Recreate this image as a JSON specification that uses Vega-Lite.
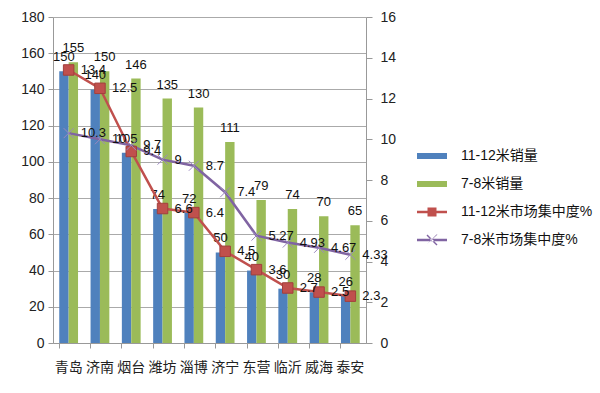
{
  "$schema": "https://vega.github.io/schema/vega-lite/v6.json",
  "autosize": {"type": "none"},
  "width": 313,
  "height": 326,
  "padding": {"left": 53, "top": 17, "right": 234, "bottom": 50},
  "background": "white",
  "config": {
    "view": {"stroke": null},
    "font": "Liberation Sans, Noto Sans CJK SC",
    "axis": {"labelFont": "Liberation Sans, Noto Sans CJK SC", "labelColor": "#222", "domainColor": "#999", "tickColor": "#999", "gridColor": "#aaa", "title": null},
    "legend": {"labelFont": "Liberation Sans, Noto Sans CJK SC"}
  },
  "datasets": {
    "sales": [
      {"city": "青岛", "series": "11-12米销量", "value": 150},
      {"city": "济南", "series": "11-12米销量", "value": 140},
      {"city": "烟台", "series": "11-12米销量", "value": 105},
      {"city": "潍坊", "series": "11-12米销量", "value": 74},
      {"city": "淄博", "series": "11-12米销量", "value": 72},
      {"city": "济宁", "series": "11-12米销量", "value": 50},
      {"city": "东营", "series": "11-12米销量", "value": 40},
      {"city": "临沂", "series": "11-12米销量", "value": 30},
      {"city": "威海", "series": "11-12米销量", "value": 28},
      {"city": "泰安", "series": "11-12米销量", "value": 26},
      {"city": "青岛", "series": "7-8米销量", "value": 155},
      {"city": "济南", "series": "7-8米销量", "value": 150},
      {"city": "烟台", "series": "7-8米销量", "value": 146},
      {"city": "潍坊", "series": "7-8米销量", "value": 135},
      {"city": "淄博", "series": "7-8米销量", "value": 130},
      {"city": "济宁", "series": "7-8米销量", "value": 111},
      {"city": "东营", "series": "7-8米销量", "value": 79},
      {"city": "临沂", "series": "7-8米销量", "value": 74},
      {"city": "威海", "series": "7-8米销量", "value": 70},
      {"city": "泰安", "series": "7-8米销量", "value": 65}
    ],
    "conc": [
      {"city": "青岛", "series": "11-12米市场集中度%", "value": 13.4},
      {"city": "济南", "series": "11-12米市场集中度%", "value": 12.5},
      {"city": "烟台", "series": "11-12米市场集中度%", "value": 9.4},
      {"city": "潍坊", "series": "11-12米市场集中度%", "value": 6.6},
      {"city": "淄博", "series": "11-12米市场集中度%", "value": 6.4},
      {"city": "济宁", "series": "11-12米市场集中度%", "value": 4.5},
      {"city": "东营", "series": "11-12米市场集中度%", "value": 3.6},
      {"city": "临沂", "series": "11-12米市场集中度%", "value": 2.7},
      {"city": "威海", "series": "11-12米市场集中度%", "value": 2.5},
      {"city": "泰安", "series": "11-12米市场集中度%", "value": 2.3},
      {"city": "青岛", "series": "7-8米市场集中度%", "value": 10.3},
      {"city": "济南", "series": "7-8米市场集中度%", "value": 10},
      {"city": "烟台", "series": "7-8米市场集中度%", "value": 9.7},
      {"city": "潍坊", "series": "7-8米市场集中度%", "value": 9},
      {"city": "淄博", "series": "7-8米市场集中度%", "value": 8.7},
      {"city": "济宁", "series": "7-8米市场集中度%", "value": 7.4},
      {"city": "东营", "series": "7-8米市场集中度%", "value": 5.27},
      {"city": "临沂", "series": "7-8米市场集中度%", "value": 4.93},
      {"city": "威海", "series": "7-8米市场集中度%", "value": 4.67},
      {"city": "泰安", "series": "7-8米市场集中度%", "value": 4.33}
    ]
  },
  "layer": [
    {
      "data": {"name": "sales"},
      "encoding": {
        "x": {"field": "city", "type": "nominal", "sort": ["青岛","济南","烟台","潍坊","淄博","济宁","东营","临沂","威海","泰安"],
              "scale": {"paddingInner": 0.4, "paddingOuter": 0.2},
              "axis": {"labelAngle": 0, "labelFontSize": 14, "labelPadding": 12, "tickSize": 5, "bandPosition": 0, "domainColor": "#999", "grid": false}},
        "xOffset": {"field": "series", "type": "nominal", "sort": ["11-12米销量", "7-8米销量"], "scale": {"paddingInner": 0, "paddingOuter": 0}},
        "y": {"field": "value", "type": "quantitative", "scale": {"domain": [0, 180], "nice": false},
              "axis": {"orient": "left", "values": [0,20,40,60,80,100,120,140,160,180], "labelFontSize": 14, "tickSize": 5, "labelPadding": 4, "grid": true}}
      },
      "layer": [
        {"mark": {"type": "bar"},
         "encoding": {"color": {"field": "series", "type": "nominal",
            "scale": {"domain": ["11-12米销量", "7-8米销量", "11-12米市场集中度%", "7-8米市场集中度%"], "range": ["#4F81BD", "#9BBB59", "#C0504D", "#8064A2"]},
            "legend": {"orient": "none", "legendX": 372, "legendY": 132, "title": null, "padding": 0,
              "labelFontSize": 14, "labelColor": "#111", "symbolSize": 100, "labelOffset": 22, "rowPadding": 14,
              "symbolType": "square",
              "encode": {"symbols": {"update": {
                "shape": {"signal": "(datum.value === '11-12米销量' || datum.value === '7-8米销量') ? 'M-3,-0.6H3V0.6H-3Z' : (datum.value === '11-12米市场集中度%' ? 'M-3,-0.25H3V0.25H-3Z M-0.9,-0.9H0.9V0.9H-0.9Z' : 'M-3,-0.25H3V0.25H-3Z M-1.1,-0.9L0.9,1.1L1.1,0.9L-0.9,-1.1Z M-1.1,0.9L1.1,-1.1L0.9,-1.1L-1.1,0.9Z')"},
                "fill": {"scale": "color", "field": "value"},
                "stroke": {"value": "transparent"},
                "strokeWidth": {"value": 0},
                "opacity": {"value": 1},
                "fillOpacity": {"value": 1}
              }}}}}}},
        {"mark": {"type": "text", "baseline": "alphabetic", "dy": -10, "fontSize": 13, "color": "#111"},
         "encoding": {"text": {"field": "value", "type": "nominal"}}}
      ]
    },
    {
      "data": {"name": "conc"},
      "encoding": {
        "x": {"field": "city", "type": "nominal", "sort": ["青岛","济南","烟台","潍坊","淄博","济宁","东营","临沂","威海","泰安"],
              "scale": {"paddingInner": 0.4, "paddingOuter": 0.2},
              "axis": {"labelAngle": 0, "labelFontSize": 14, "labelPadding": 12, "tickSize": 5, "bandPosition": 0, "domainColor": "#999", "grid": false}},
        "y": {"field": "value", "type": "quantitative", "scale": {"domain": [0, 16], "nice": false},
              "axis": {"orient": "right", "values": [0,2,4,6,8,10,12,14,16], "labelFontSize": 14, "tickSize": 6, "labelPadding": 8, "grid": false}}
      },
      "layer": [
        {"mark": {"type": "line", "strokeWidth": 2.5},
         "encoding": {"color": {"field": "series", "type": "nominal"}}},
        {"transform": [{"filter": "datum.series === '11-12米市场集中度%'"}],
         "mark": {"type": "point", "shape": "square", "size": 110, "filled": true, "fill": "#C0504D", "stroke": "#A33F3C", "strokeWidth": 1, "opacity": 1},
         "encoding": {}},
        {"transform": [{"filter": "datum.series === '7-8米市场集中度%'"}],
         "mark": {"type": "point", "shape": "M-1,-1L1,1M-1,1L1,-1", "size": 100, "filled": false, "stroke": "#9B88C0", "strokeWidth": 1, "opacity": 1},
         "encoding": {}},
        {"mark": {"type": "text", "align": "left", "baseline": "middle", "dx": 12, "fontSize": 13, "color": "#111"},
         "encoding": {"text": {"field": "value", "type": "nominal"}}}
      ]
    }
  ],
  "resolve": {"scale": {"y": "independent"}}
}
